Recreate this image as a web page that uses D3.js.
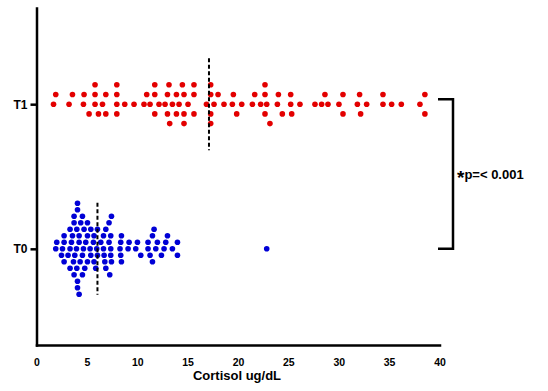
<!DOCTYPE html>
<html>
<head>
<meta charset="utf-8">
<script src="https://cdn.jsdelivr.net/npm/d3@7"></script>
<style>
  body { margin: 0; background: #fff; }
  svg { display: block; font-family: "Liberation Sans", Arial, sans-serif; }
  .axis path { stroke: #000; stroke-width: 2.5; stroke-linecap: square; }
  .axis line { stroke: #000; stroke-width: 2.5; }
  .axis text { fill: #000; font-weight: bold; }
</style>
</head>
<body>
<svg width="548" height="391" id="svg"></svg>
<script>
  // groups, top to bottom
  const categories = ["T1", "T0"];

  // cortisol per subject (ug/dL)
  const t1Cortisol = [1.69, 1.91, 3.23, 3.57, 4.66, 4.72, 5.22, 5.81, 5.81, 5.81, 6.15, 6.55, 6.88, 6.88,
    7.97, 7.97, 7.97, 7.97, 8.76, 9.68, 10.67, 10.94, 11.27, 11.74, 11.74, 11.74, 12.16, 12.76, 13.0, 13.0,
    13.15, 13.22, 13.49, 13.89, 13.89, 14.15, 14.48, 14.64, 14.64, 14.64, 15.04, 15.63, 15.63, 15.63,
    16.87, 17.29, 17.29, 17.29, 17.29, 17.62, 18.02, 18.61, 19.44, 19.54, 19.87, 20.37, 21.43, 21.66,
    22.25, 22.68, 22.68, 22.68, 22.85, 23.17, 23.91, 24.01, 24.4, 25.23, 25.23, 25.33, 26.15, 27.64,
    28.3, 28.63, 28.93, 30.02, 30.42, 30.42, 31.85, 32.07, 32.17, 32.77, 34.39, 34.39, 35.25, 36.21,
    38.06, 38.55, 38.55];

  const t0Cortisol = [1.91, 2.01, 2.48, 2.58, 2.74, 2.74, 2.74, 3.13, 3.33, 3.33, 3.33, 3.47, 3.57, 3.67,
    3.73, 3.73, 3.73, 3.8, 3.97, 4.0, 4.0, 4.07, 4.07, 4.07, 4.07, 4.23, 4.23, 4.23, 4.33, 4.39, 4.56,
    4.56, 4.56, 4.66, 4.72, 4.79, 4.89, 5.06, 5.06, 5.06, 5.32, 5.39, 5.39, 5.65, 5.71, 5.71, 5.88, 5.98,
    6.05, 6.05, 6.38, 6.65, 6.65, 6.71, 6.78, 6.88, 6.88, 7.2, 7.2, 7.27, 7.37, 7.37, 7.37, 7.44, 7.44,
    8.29, 8.36, 8.36, 8.43, 8.43, 9.09, 9.19, 9.85, 10.02, 10.35, 11.07, 11.07, 11.27, 11.51, 11.51,
    11.67, 11.84, 12.0, 12.4, 12.66, 12.83, 13.0, 13.49, 13.99, 13.99, 22.85];

  // median lines as drawn
  const medians = [17.12, 6.05];

  const xTicks = [0, 5, 10, 15, 20, 25, 30, 35, 40];
  const xTitle = "Cortisol ug/dL";
  const pStar = "*";
  const pLabel = "p=< 0.001";

  const svg = d3.select("#svg");

  const x = d3.scaleLinear().domain([0, 40]).range([36.5, 439.5]);
  const y = d3.scalePoint().domain(categories).range([8, 345]).padding(0.665);

  const groups = [
    { key: "T1", values: t1Cortisol, color: "#e30000", gap: 9.7, minDx: 6 },
    { key: "T0", values: t0Cortisol, color: "#0000d6", gap: 6.5, minDx: 6.3 }
  ];

  // stack dots into rows around the group line so they do not overlap
  function swarm(values, cy, gap, minDx) {
    const placed = [];
    return values.slice().sort(d3.ascending).map((v) => {
      const cx = x(v);
      for (let k = 0; ; k++) {
        const row = k === 0 ? 0 : (k % 2 ? -Math.ceil(k / 2) : k / 2);
        const hit = placed.some((p) => { return p.row === row && Math.abs(p.cx - cx) < minDx; });
        if (!hit) {
          const p = { v: v, cx: cx, row: row, cy: cy + row * gap };
          placed.push(p);
          return p;
        }
      }
    });
  }

  // axes
  svg.append("g")
      .attr("class", "axis")
      .attr("transform", "translate(0,345)")
      .call(d3.axisBottom(x).tickValues(xTicks).tickSize(0).tickPadding(14))
      .call((g) => { g.selectAll("text").attr("font-size", 10.5); });

  svg.append("g")
      .attr("class", "axis")
      .attr("transform", "translate(" + x(0) + ",0)")
      .call(d3.axisLeft(y).tickSizeInner(6).tickSizeOuter(0).tickPadding(3))
      .call((g) => { g.selectAll("text").attr("font-size", 12); });

  svg.append("text")
      .attr("x", 237)
      .attr("y", 380)
      .attr("text-anchor", "middle")
      .attr("font-size", 13)
      .attr("font-weight", "bold")
      .text(xTitle);

  // dots
  groups.forEach((grp) => {
    const pts = swarm(grp.values, y(grp.key), grp.gap, grp.minDx);
    svg.append("g")
        .attr("fill", grp.color)
      .selectAll("circle")
      .data(pts)
      .enter().append("circle")
        .attr("cx", (d) => { return d.cx; })
        .attr("cy", (d) => { return d.cy; })
        .attr("r", 2.8);
  });

  // median lines
  svg.append("g")
    .selectAll("line")
    .data(categories)
    .enter().append("line")
      .attr("x1", (d, i) => { return x(medians[i]); })
      .attr("x2", (d, i) => { return x(medians[i]); })
      .attr("y1", (d) => { return y(d) - 46; })
      .attr("y2", (d) => { return y(d) + 46; })
      .attr("stroke", "#000")
      .attr("stroke-width", 2)
      .attr("stroke-dasharray", "4,2.5");

  // significance bracket
  const bx = 453;
  const yTop = y("T1") - 5;
  const yBottom = y("T0");
  svg.append("path")
      .attr("d", "M438," + yTop + "H" + bx + "V" + yBottom + "H438")
      .attr("fill", "none")
      .attr("stroke", "#000")
      .attr("stroke-width", 2.5);

  const pText = svg.append("text")
      .attr("x", 457)
      .attr("y", 179)
      .attr("font-weight", "bold");
  pText.append("tspan")
      .attr("font-size", 19)
      .attr("dy", 5)
      .text(pStar);
  pText.append("tspan")
      .attr("font-size", 13)
      .attr("dy", -5)
      .text(pLabel);
</script>
</body>
</html>
